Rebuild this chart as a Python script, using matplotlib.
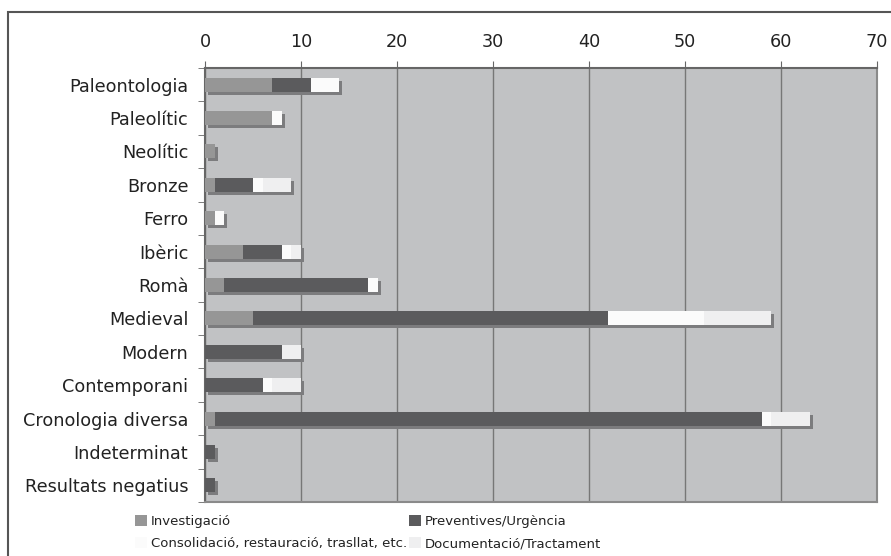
import matplotlib
matplotlib.use("Agg")
import matplotlib.pyplot as plt
import matplotlib.transforms as mtransforms
from matplotlib.patches import Rectangle
import numpy as np

plt.rcParams['font.family'] = ['DejaVu Sans']

categories = ["Paleontologia", "Paleolític", "Neolític", "Bronze", "Ferro", "Ibèric", "Romà",
              "Medieval", "Modern", "Contemporani", "Cronologia diversa", "Indeterminat",
              "Resultats negatius"]
investigacio = [7, 7, 1, 1, 1, 4, 2, 5, 0, 0, 1, 0, 0]
preventives = [4, 0, 0, 4, 0, 4, 15, 37, 8, 6, 57, 1, 1]
consolidacio = [3, 1, 0, 1, 1, 1, 1, 10, 0, 1, 1, 0, 0]
documentacio = [0, 0, 0, 3, 0, 1, 0, 7, 2, 3, 4, 0, 0]
series_names = ["Investigació", "Preventives/Urgència",
                "Consolidació, restauració, trasllat, etc.", "Documentació/Tractament"]
colors = ["#969696", "#5b5b5d", "#fbfbfb", "#efeff0"]
xticks = [0, 10, 20, 30, 40, 50, 60, 70]

W, H = 891, 556
fig = plt.figure(figsize=(W / 100, H / 100), dpi=100)
fig.patch.set_facecolor("white")

# outer frame
fig.add_artist(Rectangle((8 / W, -0.1), 1.2, 1 - 12 / H + 0.1, transform=fig.transFigure,
                         fill=False, edgecolor="#555555", linewidth=1.5))

ax = fig.add_axes([205 / W, 1 - 502 / H, (877 - 205) / W, (502 - 68) / H])
ax.set_facecolor("#c1c2c4")

y = np.arange(len(categories))
data = [investigacio, preventives, consolidacio, documentacio]
totals = np.sum(np.array(data), axis=0)
h = 0.42

shadow_tr = ax.transData + mtransforms.ScaledTranslation(3 / 100, -3 / 100, fig.dpi_scale_trans)
ax.barh(y, totals, height=h, color="#7c7c7e", transform=shadow_tr, zorder=2)

left = np.zeros(len(categories))
handles = []
for vals, c, name in zip(data, colors, series_names):
    b = ax.barh(y, vals, left=left, height=h, color=c, zorder=3, label=name)
    handles.append(b)
    left += np.array(vals)

ax.set_xlim(0, 70)
ax.set_ylim(len(categories) - 0.5, -0.5)
ax.set_xticks(xticks)
ax.xaxis.tick_top()
ax.tick_params(axis="x", top=True, bottom=False, length=5, color="#666666",
               labelsize=12.7, pad=7, labelcolor="#222222")
ax.grid(axis="x", color="#777777", linewidth=1.0, zorder=1)
ax.set_axisbelow(True)

ax.set_yticks(y)
ax.set_yticklabels(categories)
ax.set_yticks(np.arange(-0.5, len(categories), 1), minor=True)
ax.tick_params(axis="y", which="major", length=0, labelsize=12.7, pad=12, labelcolor="#222222")
ax.tick_params(axis="y", which="minor", length=5, color="#666666")

for s in ["top", "left"]:
    ax.spines[s].set_color("#666666")
    ax.spines[s].set_linewidth(1.5)
for s in ["right", "bottom"]:
    ax.spines[s].set_color("#8a8a8a")
    ax.spines[s].set_linewidth(1.5)

leg_kw = dict(loc="upper left", frameon=False, fontsize=9.5, handlelength=0.9,
              handleheight=0.9, handletextpad=0.3, labelspacing=0.7, borderaxespad=0,
              borderpad=0)
leg1 = fig.legend(handles=[handles[0], handles[2]], labels=[series_names[0], series_names[2]],
                  bbox_to_anchor=(135 / W, 1 - 515 / H), **leg_kw)
leg2 = fig.legend(handles=[handles[1], handles[3]], labels=[series_names[1], series_names[3]],
                  bbox_to_anchor=(409 / W, 1 - 515 / H), **leg_kw)
for leg in (leg1, leg2):
    for t in leg.get_texts():
        t.set_color("#222222")

fig.savefig("out.png", dpi=100)
